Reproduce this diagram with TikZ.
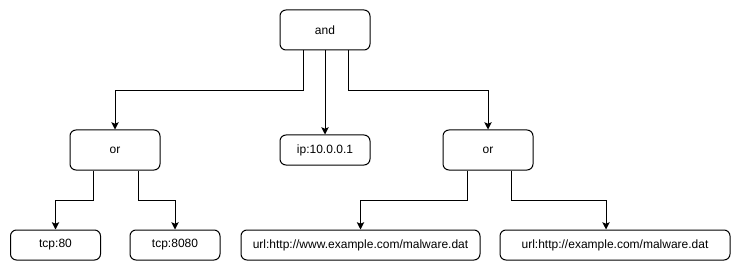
\documentclass[tikz,border=0pt]{standalone}
\usepackage{fontspec}
\setmainfont{Liberation Sans}
\usetikzlibrary{arrows.meta, positioning, calc}
\tikzstyle{op} = [rectangle, draw, rounded corners=4.5pt, minimum width=67.5pt,
    minimum height=30pt, line width=0.75pt, font=\fontsize{9}{11}\selectfont]
\tikzstyle{leaf} = [op, minimum height=22.5pt]
\tikzstyle{arrow} = [-{Stealth[length=5.5pt, width=5.5pt, inset=1.2pt]}, line width=0.75pt]

\begin{document}
\begin{tikzpicture}[x=0.75pt, y=-0.75pt]
    \useasboundingbox (0,0) rectangle (741,274);
    % Operators
    \node[op] (and) at (325,30) {and};
    \node[op] (orL) at (115,150) {or};
    \node[leaf] (ip) at (325,150) {ip:10.0.0.1};
    \node[op] (orR) at (488,150) {or};

    % Terms
    \node[leaf] (tcpA) at (55.5,245) {tcp:80};
    \node[leaf] (tcpB) at (175,245) {tcp:8080};
    \node[leaf, minimum width=179.25pt] (urlA) at (360.5,245) {url:http://www.example.com/malware.dat};
    \node[leaf, minimum width=172.5pt] (urlB) at (615,245) {url:http://example.com/malware.dat};

    \draw[arrow] ($(and.south)+(-22,0)$) -- ++(0,40) -| (orL.north);
    \draw[arrow] (and.south) -- (ip.north);
    \draw[arrow] ($(and.south)+(23,0)$) -- ++(0,40) -| (orR.north);

    \draw[arrow] ($(orL.south)+(-22,0)$) -- ++(0,30) -| (tcpA.north);
    \draw[arrow] ($(orL.south)+(23,0)$) -- ++(0,30) -| (tcpB.north);
    \draw[arrow] ($(orR.south)+(-21,0)$) -- ++(0,30) -| (urlA.north);
    \draw[arrow] ($(orR.south)+(23,0)$) -- ++(0,30) -| ($(urlB.north)+(-9,0)$);
\end{tikzpicture}
\end{document}
